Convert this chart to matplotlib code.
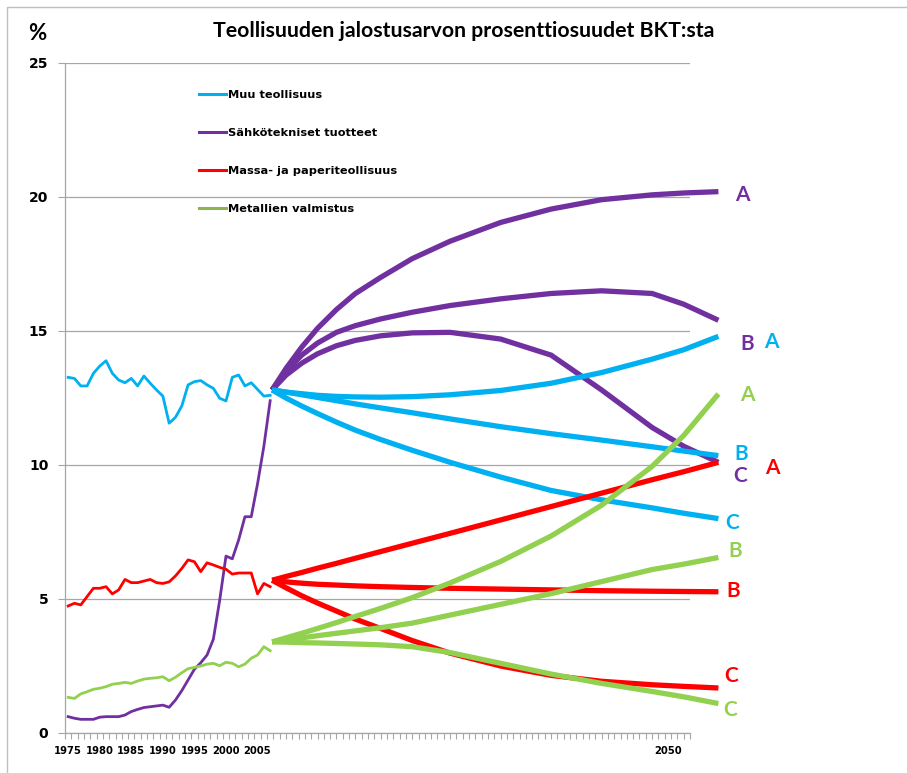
import numpy as np
import matplotlib
matplotlib.use('Agg')
import matplotlib.pyplot as plt
from matplotlib.lines import Line2D

# historical shares of GDP, 1975-2007 (%)
years = list(range(1975, 2008))
muu = [13.27, 13.23, 12.95, 12.95, 13.42, 13.69, 13.89, 13.42, 13.17, 13.07, 13.23,
       12.95, 13.32, 13.05, 12.8, 12.57, 11.56, 11.78, 12.2, 12.99, 13.11, 13.15,
       12.99, 12.86, 12.49, 12.39, 13.27, 13.36, 12.95, 13.07, 12.82, 12.57, 12.6]
sahko = [0.61, 0.55, 0.51, 0.51, 0.51, 0.59, 0.61, 0.61, 0.61, 0.67, 0.8,
         0.88, 0.95, 0.98, 1.01, 1.04, 0.96, 1.23, 1.58, 1.98, 2.38, 2.62,
         2.91, 3.5, 4.95, 6.6, 6.5, 7.2, 8.07, 8.07, 9.3, 10.7, 12.4]
massa = [4.74, 4.84, 4.78, 5.09, 5.4, 5.4, 5.46, 5.19, 5.34, 5.73, 5.61,
         5.61, 5.67, 5.73, 5.61, 5.58, 5.64, 5.86, 6.14, 6.46, 6.39, 6.02,
         6.35, 6.27, 6.18, 6.11, 5.93, 5.97, 5.97, 5.97, 5.19, 5.58, 5.46]
metalli = [1.33, 1.29, 1.46, 1.54, 1.63, 1.67, 1.73, 1.82, 1.85, 1.89, 1.85,
           1.94, 2.01, 2.04, 2.06, 2.1, 1.95, 2.08, 2.25, 2.4, 2.45, 2.5,
           2.57, 2.6, 2.51, 2.64, 2.6, 2.47, 2.57, 2.79, 2.91, 3.22, 3.07]

# scenario curves (position on the category axis, value)
proj_x = [32.8, 35, 37.5, 40, 43, 46, 50, 55, 61, 69, 77, 85, 93, 98, 103.5]
sahko_A = [12.8, 13.6, 14.4, 15.1, 15.8, 16.4, 17.0, 17.7, 18.35, 19.05, 19.55, 19.9, 20.08, 20.15, 20.2]
sahko_B = [12.8, 13.5, 14.1, 14.55, 14.95, 15.2, 15.45, 15.7, 15.95, 16.2, 16.4, 16.5, 16.4, 16.0, 15.4]
sahko_C = [12.8, 13.35, 13.8, 14.15, 14.45, 14.65, 14.82, 14.93, 14.95, 14.7, 14.1, 12.8, 11.4, 10.7, 10.1]
muu_A = [12.8, 12.72, 12.66, 12.6, 12.56, 12.54, 12.53, 12.55, 12.62, 12.78, 13.05, 13.45, 13.95, 14.3, 14.8]
muu_B = [12.8, 12.72, 12.62, 12.52, 12.4, 12.28, 12.13, 11.95, 11.72, 11.43, 11.17, 10.93, 10.68, 10.52, 10.35]
muu_C = [12.8, 12.5, 12.2, 11.92, 11.6, 11.3, 10.95, 10.55, 10.1, 9.55, 9.05, 8.7, 8.4, 8.2, 8.0]
massa_A = [5.7, 5.84, 5.99, 6.15, 6.33, 6.52, 6.77, 7.08, 7.45, 7.95, 8.45, 8.95, 9.45, 9.75, 10.1]
massa_B = [5.7, 5.64, 5.59, 5.55, 5.52, 5.49, 5.46, 5.43, 5.4, 5.37, 5.34, 5.31, 5.29, 5.28, 5.27]
massa_C = [5.7, 5.42, 5.12, 4.85, 4.55, 4.25, 3.9, 3.45, 2.98, 2.5, 2.15, 1.93, 1.8, 1.74, 1.68]
metalli_A = [3.4, 3.55, 3.72, 3.9, 4.12, 4.35, 4.65, 5.05, 5.6, 6.4, 7.35, 8.5, 9.95, 11.1, 12.65]
metalli_B = [3.4, 3.47, 3.55, 3.63, 3.72, 3.81, 3.93, 4.1, 4.4, 4.8, 5.2, 5.65, 6.1, 6.3, 6.55]
metalli_C = [3.4, 3.39, 3.37, 3.36, 3.34, 3.32, 3.29, 3.22, 3.0, 2.6, 2.2, 1.85, 1.55, 1.35, 1.1]

# scenario letters: (text, colour key, x position, y value)
end_labels = [('A', 'sahko', 107.3, 20.07), ('B', 'sahko', 108.1, 14.5),
              ('A', 'muu', 111.9, 14.6), ('A', 'metalli', 108.1, 12.6),
              ('B', 'muu', 107.1, 10.4), ('C', 'sahko', 106.9, 9.6),
              ('A', 'massa', 112.1, 9.9), ('C', 'muu', 105.7, 7.85),
              ('B', 'metalli', 106.2, 6.8), ('B', 'massa', 105.9, 5.3),
              ('C', 'massa', 105.5, 2.13), ('C', 'metalli', 105.4, 0.86)]

names = ['Muu teollisuus', 'Sähkötekniset tuotteet', 'Massa- ja paperiteollisuus', 'Metallien valmistus']
colors = {'muu': '#00B0F0', 'sahko': '#7030A0', 'massa': '#FF0000', 'metalli': '#92D050'}
legend_colors = ['#00B0F0', '#7030A0', '#FF0000', '#8EB44F']

W, H = 907, 773
fig = plt.figure(figsize=(W / 100, H / 100), dpi=100)
ax = fig.add_axes([65 / W, 40 / H, 625 / W, 670 / H])

# outer frame
fig.add_artist(plt.Rectangle((7 / W, -0.01), 1.2, (H - 7) / H + 0.01, transform=fig.transFigure,
                             fill=False, edgecolor='#BFBFBF', lw=1))

xh = [y - 1975 + 0.5 for y in years]
ax.plot(xh, muu, color=colors['muu'], lw=2.0, zorder=3)
ax.plot(xh, sahko, color=colors['sahko'], lw=2.0, zorder=3)
ax.plot(xh, massa, color=colors['massa'], lw=2.0, zorder=3)
ax.plot(xh, metalli, color=colors['metalli'], lw=2.0, zorder=3)

for key, series in [('sahko', [sahko_A, sahko_B, sahko_C]), ('muu', [muu_A, muu_B, muu_C]),
                    ('massa', [massa_A, massa_B, massa_C]), ('metalli', [metalli_A, metalli_B, metalli_C])]:
    for s in series:
        ax.plot(proj_x, s, color=colors[key], lw=3.8, solid_capstyle='butt', solid_joinstyle='round',
                clip_on=False, zorder=4)

for txt, key, x, y in end_labels:
    ax.text(x, y, txt, color=colors[key], fontsize=15, fontweight='bold', family='Lato',
            ha='center', va='center', clip_on=False)

ax.set_xlim(0, 99)
ax.set_ylim(0, 25)
ax.set_yticks([0, 5, 10, 15, 20, 25])
ax.set_yticklabels(['0', '5', '10', '15', '20', '25'], fontsize=10, fontweight='bold')
ax.grid(axis='y', color='#A6A6A6', lw=0.9)
ax.set_axisbelow(True)

ax.set_xticks([0.5, 5.5, 10.5, 15.5, 20.5, 25.5, 30.5, 95.5])
ax.set_xticklabels(['1975', '1980', '1985', '1990', '1995', '2000', '2005', '2050'],
                   fontsize=7.2, fontweight='bold')
ax.set_xticks(np.arange(0, 100), minor=True)
ax.tick_params(axis='x', which='major', length=0, pad=9)
ax.tick_params(axis='x', which='minor', length=4, color='#A6A6A6', width=0.8)
ax.tick_params(axis='y', length=5, color='#A6A6A6', width=0.8, pad=7)
for side in ['top', 'right']:
    ax.spines[side].set_visible(False)
for side in ['left', 'bottom']:
    ax.spines[side].set_color('#A6A6A6')
    ax.spines[side].set_linewidth(0.9)

handles = [Line2D([], [], color=c, lw=2.2) for c in legend_colors]
ax.legend(handles, names, loc='upper left', bbox_to_anchor=(199 / W, 1 - 90 / H),
          bbox_transform=fig.transFigure, frameon=False, borderpad=0, borderaxespad=0,
          handlelength=2.4, handletextpad=0.15, labelspacing=2.45,
          prop={'weight': 'bold', 'size': 8.2})

fig.text(37 / W, 1 - 33 / H, '%', fontsize=16, fontweight='bold', family='Lato', ha='center', va='center')
fig.text(464 / W, 1 - 31 / H, 'Teollisuuden jalostusarvon prosenttiosuudet BKT:sta',
         fontsize=15.3, fontweight='bold', family='Lato', ha='center', va='center')

fig.savefig('out.png', dpi=100)
